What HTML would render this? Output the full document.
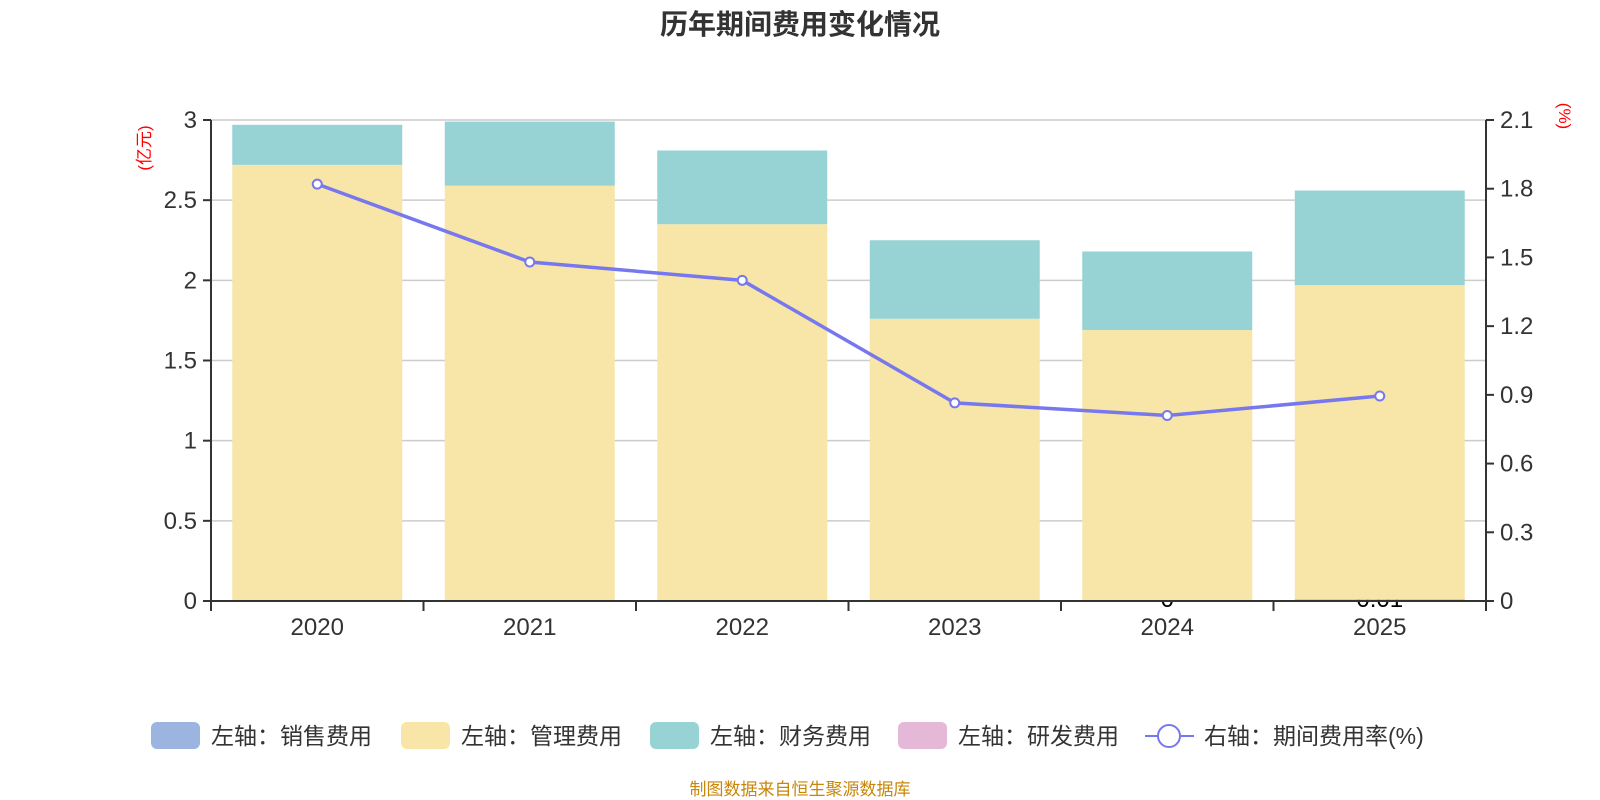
<!DOCTYPE html>
<html><head><meta charset="utf-8"><style>
body{margin:0;background:#fff;}
svg{display:block;font-family:"Liberation Sans","Noto Sans CJK SC",sans-serif;}
</style></head><body>
<svg id="c" width="1600" height="800">
<text x="800" y="34" text-anchor="middle" font-size="28" font-weight="bold" fill="#333">历年期间费用变化情况</text>
<text transform="translate(150,148) rotate(-90)" text-anchor="middle" font-size="17" fill="red">(亿元)</text>
<text transform="translate(1559,116) rotate(90)" text-anchor="middle" font-size="17" fill="red">(%)</text>
<g id="grid"></g><g id="bars"></g><g id="axes"></g><g id="line"></g><g id="legend"></g>
<text x="800" y="795" text-anchor="middle" font-size="17" fill="#c8860a">制图数据来自恒生聚源数据库</text>
</svg>
<script>
const years=["2020","2021","2022","2023","2024","2025"];
const sales=[0,0,0,0,0,0.01];
const mgmt=[2.72,2.59,2.35,1.76,1.69,1.96];
const fin=[0.25,0.40,0.46,0.49,0.49,0.59];
const rnd=[0,0,0,0,0,0];
const rate=[1.82,1.48,1.40,0.865,0.81,0.895];
const leftTicks=["0","0.5","1","1.5","2","2.5","3"];
const rightTicks=["0","0.3","0.6","0.9","1.2","1.5","1.8","2.1"];
const NS="http://www.w3.org/2000/svg";
const L=211,R=1486,T=120,B=601;
const yL=v=>B-(B-T)*v/3, yR=v=>B-(B-T)*v/2.1;
const band=(R-L)/years.length, xc=i=>L+band*(i+0.5);
function mk(p,t,a){const e=document.createElementNS(NS,t);for(const k in a)e.setAttribute(k,a[k]);document.getElementById(p).appendChild(e);return e;}
leftTicks.forEach((t,i)=>{const y=yL(+t);
 if(i>0){const g=mk('grid','line',{x1:L,x2:R,y1:y,y2:y,stroke:'#ccc','stroke-width':1.5});}
 mk('axes','line',{x1:L-8,x2:L,y1:y,y2:y,stroke:'#333','stroke-width':2});
 const tx=mk('axes','text',{x:L-14,y:y+8,'text-anchor':'end','font-size':24,fill:'#333'});tx.textContent=t;
 });
rightTicks.forEach(t=>{const y=yR(+t);
 mk('axes','line',{x1:R,x2:R+8,y1:y,y2:y,stroke:'#333','stroke-width':2});
 const tx=mk('axes','text',{x:R+14,y:y+8,'font-size':24,fill:'#333'});tx.textContent=t;
 });
mk('axes','line',{x1:L,x2:L,y1:T,y2:B+1,stroke:'#333','stroke-width':2});
mk('axes','line',{x1:R,x2:R,y1:T,y2:B+1,stroke:'#333','stroke-width':2});
for(let i=0;i<=years.length;i++){const x=L+band*i;mk('axes','line',{x1:x,x2:x,y1:B,y2:B+10,stroke:'#333','stroke-width':2});}
const bw=170;
years.forEach((yr,i)=>{
 const x=xc(i)-bw/2;
 if(i>=4){const lab=mk('bars','text',{x:xc(i),y:B+6,'text-anchor':'middle','font-size':24,fill:'#000'});lab.textContent=String(sales[i]);
 }
 let base=0;
 [[sales,'#9bb5e0','sales-bar'],[mgmt,'#f7e6a8','mgmt-bar'],[fin,'#97d3d4','finance-bar'],[rnd,'#e6b8d8','rnd-bar']].forEach(([arr,col,nm])=>{
  const v=arr[i];if(v<=0)return;
  const r=mk('bars','rect',{x:x,width:bw,y:yL(base+v),height:yL(base)-yL(base+v),fill:col});
  base+=v;});
 const tx=mk('axes','text',{x:xc(i),y:B+34,'text-anchor':'middle','font-size':24,fill:'#333'});tx.textContent=yr;
 
});
mk('axes','line',{x1:L,x2:R,y1:B,y2:B,stroke:'#333','stroke-width':2});
const pl=mk('line','polyline',{points:rate.map((v,i)=>xc(i)+','+yR(v)).join(' '),fill:'none',stroke:'#7777ee','stroke-width':3.5});

rate.forEach((v,i)=>{const c=mk('line','circle',{cx:xc(i),cy:yR(v),r:4.5,fill:'#fff',stroke:'#7777ee','stroke-width':2});
 });
const leg=[['左轴：销售费用','#9bb5e0',151],['左轴：管理费用','#f7e6a8',401],['左轴：财务费用','#97d3d4',650],['左轴：研发费用','#e6b8d8',898]];
leg.forEach(([t,c,x])=>{const r=mk('legend','rect',{x:x,y:722,width:49,height:27,rx:6,fill:c});
 
 const tx=mk('legend','text',{x:x+60,y:744,'font-size':23,fill:'#333'});tx.textContent=t;
 });
mk('legend','line',{x1:1145,x2:1194,y1:736,y2:736,stroke:'#7777ee','stroke-width':2});
mk('legend','circle',{cx:1169,cy:736,r:11,fill:'#fff',stroke:'#7777ee','stroke-width':2});
const lt=mk('legend','text',{x:1204,y:744,'font-size':23,fill:'#333'});lt.textContent='右轴：期间费用率(%)';

</script>
</body></html>
